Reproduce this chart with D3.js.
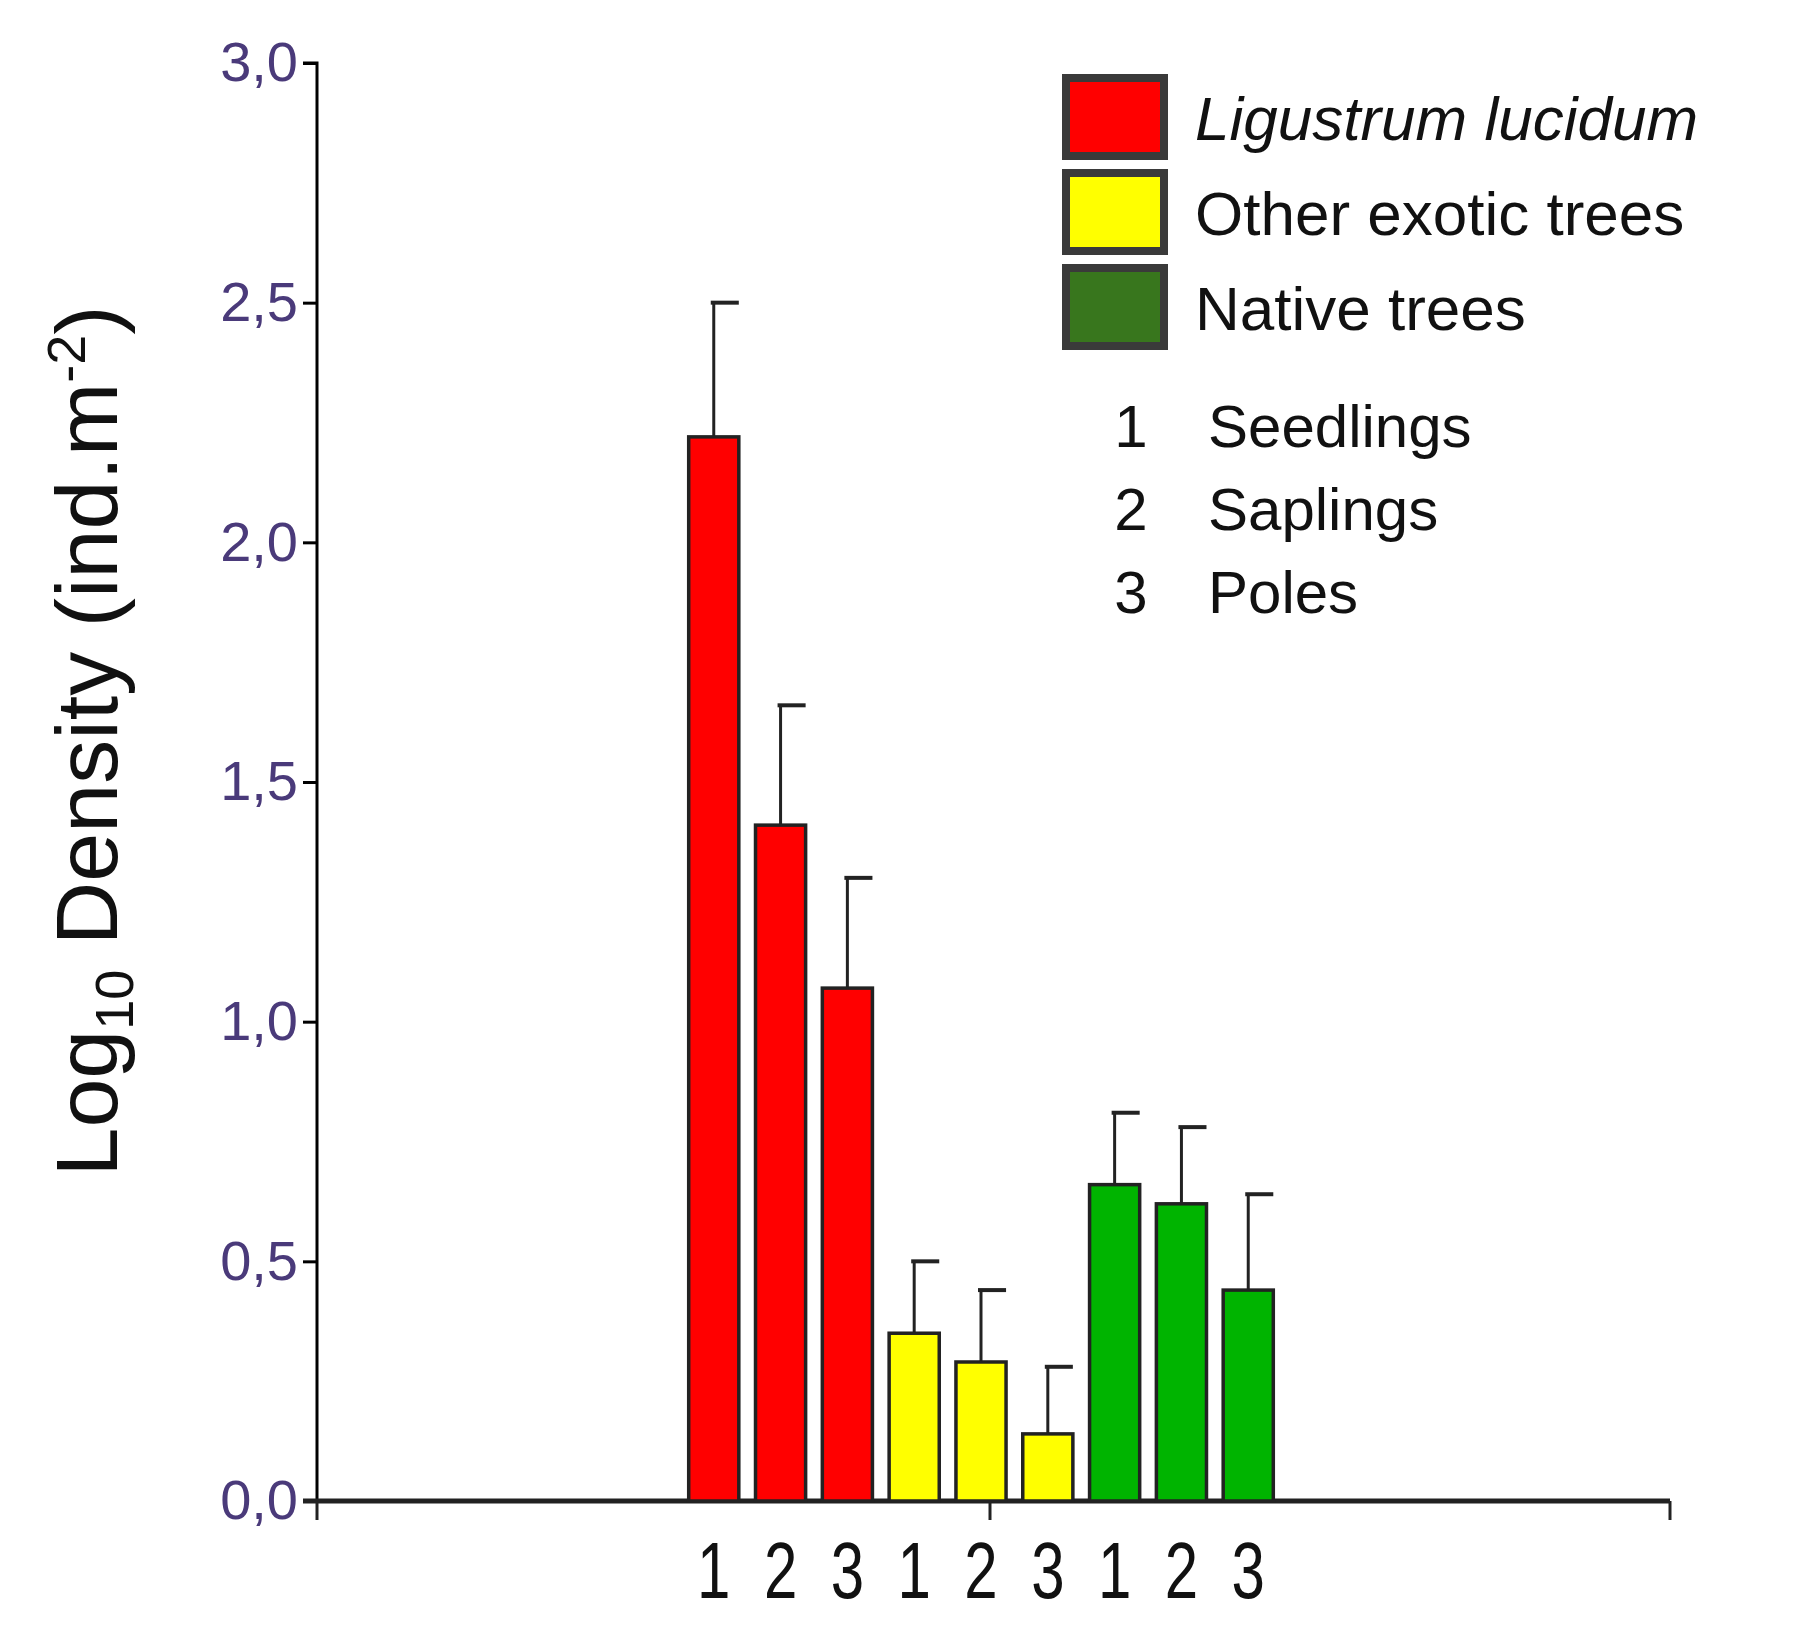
<!DOCTYPE html>
<html><head><meta charset="utf-8">
<script src="https://cdn.jsdelivr.net/npm/d3@7"></script>
<style>body{margin:0;background:#fff}text{font-family:Arial,"Liberation Sans",sans-serif}</style>
</head><body><div id="chart"></div>
<script>
var categories = ["1","2","3","1","2","3","1","2","3"];
var groups = ["L","L","L","O","O","O","N","N","N"];
var values = [2.22, 1.41, 1.07, 0.35, 0.29, 0.14, 0.66, 0.62, 0.44];
var errTop = [2.50, 1.66, 1.30, 0.50, 0.44, 0.28, 0.81, 0.78, 0.64];
var yTicks = [0, 0.5, 1.0, 1.5, 2.0, 2.5, 3.0];
var legendNames = ["Ligustrum lucidum", "Other exotic trees", "Native trees"];
var legendFill = ["#ff0000", "#ffff00", "#38761d"];
var stages = [["1","Seedlings"],["2","Saplings"],["3","Poles"]];
var barFill = {L:"#ff0000", O:"#ffff00", N:"#00b400"};

var svg = d3.select("#chart").append("svg").attr("width",1800).attr("height",1630);

var x = d3.scaleBand().domain(d3.range(9)).range([672,1290]).padding(0.25);
var y = d3.scaleLinear().domain([0,3]).range([1501,63]);

// axes
var yAxis = svg.append("g").attr("transform","translate(317,0)")
  .call(d3.axisLeft(y).tickValues(yTicks).tickSize(14).tickFormat(d => d3.format(".1f")(d).replace(".",",")));
yAxis.selectAll("text").attr("font-size",56).attr("fill","#4a3a7a").attr("dx",-2);
yAxis.select(".domain").attr("stroke-width",3).attr("d","M-14,63H0V1501");
yAxis.selectAll("line").attr("stroke-width",3);

svg.append("line").attr("x1",303).attr("x2",1670).attr("y1",1501).attr("y2",1501).attr("stroke","#222").attr("stroke-width",5);
[317,990,1670].forEach(function(t){
  svg.append("line").attr("x1",t).attr("x2",t).attr("y1",1501).attr("y2",1520).attr("stroke","#222").attr("stroke-width",3);
});

// bars + error bars
var g = svg.append("g");
g.selectAll("line.err").data(values).enter().append("line")
  .attr("x1",(d,i)=>x(i)+x.bandwidth()/2).attr("x2",(d,i)=>x(i)+x.bandwidth()/2)
  .attr("y1",d=>y(d)).attr("y2",(d,i)=>y(errTop[i])).attr("stroke","#222").attr("stroke-width",3);
g.selectAll("line.cap").data(errTop).enter().append("line")
  .attr("x1",(d,i)=>x(i)+x.bandwidth()/2-3).attr("x2",(d,i)=>x(i)+x.bandwidth())
  .attr("y1",d=>y(d)).attr("y2",d=>y(d)).attr("stroke","#222").attr("stroke-width",4);
g.selectAll("rect").data(values).enter().append("rect")
  .attr("x",(d,i)=>x(i)).attr("width",x.bandwidth())
  .attr("y",d=>y(d)).attr("height",d=>y(0)-y(d))
  .attr("fill",(d,i)=>barFill[groups[i]]).attr("stroke","#222").attr("stroke-width",3.5);

svg.selectAll("text.xl").data(categories).enter().append("text")
  .attr("transform",(d,i)=>`translate(${x(i)+x.bandwidth()/2},1598) scale(0.75,1)`).attr("text-anchor","middle")
  .attr("font-size",80).attr("fill","#111").text(d=>d);

// y label
var yl = svg.append("text").attr("transform","translate(117,741) rotate(-90)").attr("text-anchor","middle")
  .attr("font-size",88).attr("fill","#111");
yl.append("tspan").text("Log");
yl.append("tspan").attr("font-size",54).attr("dy",16).text("10");
yl.append("tspan").attr("dy",-16).text(" Density (ind.m");
yl.append("tspan").attr("font-size",54).attr("dy",-32).text("-2");
yl.append("tspan").attr("dy",32).text(")");

// legend
legendNames.forEach(function(n,i){
  var yy = 78 + i*95;
  svg.append("rect").attr("x",1066).attr("y",yy).attr("width",98).attr("height",78)
    .attr("fill",legendFill[i]).attr("stroke","#3a3a3a").attr("stroke-width",8);
  svg.append("text").attr("x",1195).attr("y",yy+62).attr("font-size",62).attr("fill","#111")
    .attr("font-style",i==0?"italic":"normal").text(n);
});
stages.forEach(function(s,i){
  var yy = 447 + i*83;
  svg.append("text").attr("x",1131).attr("y",yy).attr("text-anchor","middle").attr("font-size",60).attr("fill","#111").text(s[0]);
  svg.append("text").attr("x",1208).attr("y",yy).attr("font-size",60).attr("fill","#111").text(s[1]);
});
</script></body></html>
